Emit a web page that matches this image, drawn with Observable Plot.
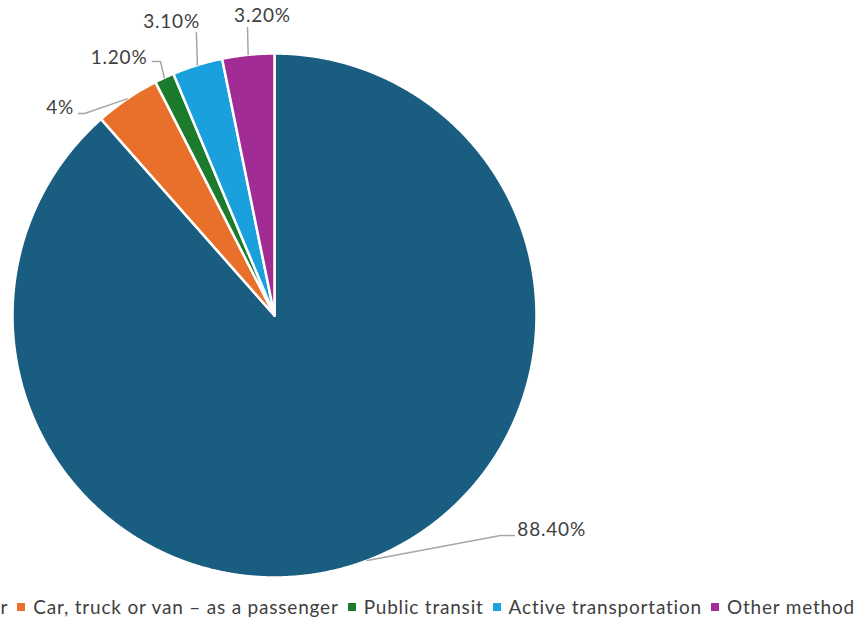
<!DOCTYPE html>
<html>
<head>
<meta charset="utf-8">
<script src="https://cdn.jsdelivr.net/npm/d3@7"></script>
<script src="https://cdn.jsdelivr.net/npm/@observablehq/plot@0.6"></script>
<style>
  html, body { margin: 0; padding: 0; background: #fff; overflow: hidden; }
  #wrap { position: relative; width: 859px; height: 622px; overflow: hidden; }
  #chart { position: absolute; left: 0; top: 0; }
  #legend { position: absolute; right: 4px; top: 595px; width: max-content; display: flex; white-space: nowrap;
    font-family: Lato, "Open Sans", sans-serif; font-size: 19px; letter-spacing: 0.8px; color: #404040; align-items: center; }
  .item { display: flex; align-items: center; margin-left: 9px; flex: none; }
  .sw { width: 8px; height: 8px; margin-right: 8px; display: inline-block; flex: none; }
  .item span.t { letter-spacing: 0.8px; }
</style>
</head>
<body>
<div id="wrap">
  <div id="chart"></div>
  <div id="legend"></div>
</div>
<script>
const categories = [
  "Car, truck or van \u2013 as a driver",
  "Car, truck or van \u2013 as a passenger",
  "Public transit",
  "Active transportation",
  "Other method"
];
const values = [88.4, 4, 1.2, 3.1, 3.2];
const labels = ["88.40%", "4%", "1.20%", "3.10%", "3.20%"];
const colors = ["#195e80", "#e8702a", "#1c7a2c", "#1aa0dc", "#a12c93"];

// Label layout in pie-radius units: leader path after the slice edge, text spot & anchor
const labelBends = [
  [[0.863, -0.840], [0.916, -0.840]],
  [[-0.725, 0.771], [-0.748, 0.771]],
  [[-0.435, 0.969], [-0.466, 0.969]],
  [[-0.298, 1.080]],
  [[-0.103, 1.099]]
];
const labelSpots = [[0.927, -0.817], [-0.765, 0.793], [-0.485, 0.985], [-0.393, 1.122], [-0.046, 1.143]];
const labelAnchors = ["start", "end", "end", "middle", "middle"];

const arcs = d3.pie().sort(null).value(d => d)(values);

// Wedge outlines
const wedgePts = [];
arcs.forEach((a, i) => {
  const cat = categories[i];
  wedgePts.push({cat, x: 0, y: 0});
  const n = Math.max(2, Math.ceil((a.endAngle - a.startAngle) / 0.004));
  for (let k = 0; k <= n; k++) {
    const t = a.startAngle + (a.endAngle - a.startAngle) * k / n;
    wedgePts.push({cat, x: Math.sin(t), y: Math.cos(t)});
  }
  wedgePts.push({cat, x: 0, y: 0});
});

// Leader lines
const leaderPts = [];
arcs.forEach((a, i) => {
  const m = (a.startAngle + a.endAngle) / 2;
  leaderPts.push({cat: categories[i], x: Math.sin(m), y: Math.cos(m)});
  labelBends[i].forEach(p => leaderPts.push({cat: categories[i], x: p[0], y: p[1]}));
});

const textData = labels.map((l, i) => ({label: l, x: labelSpots[i][0], y: labelSpots[i][1], anchor: labelAnchors[i]}));

const chart = Plot.plot({
  width: 859,
  height: 590,
  margin: 0,
  style: {background: "white"},
  x: {domain: [-1, 1], range: [12, 536], axis: null},
  y: {domain: [-1, 1], range: [577, 53], axis: null},
  color: {domain: categories, range: colors},
  marks: [
    Plot.line(wedgePts, {x: "x", y: "y", z: "cat", fill: "cat", stroke: "white", strokeWidth: 2.5, strokeLinejoin: "round"}),
    Plot.line(leaderPts, {x: "x", y: "y", z: "cat", stroke: "#a6a6a6", strokeWidth: 1.5}),
    ...["start", "end", "middle"].map(an =>
      Plot.text(textData.filter(d => d.anchor === an), {x: "x", y: "y", text: "label", textAnchor: an, lineAnchor: "middle",
        fontSize: 19, fontFamily: "Lato, 'Open Sans', sans-serif", fill: "#404040"}))
  ]
});
chart.querySelectorAll("text").forEach(t => t.setAttribute("letter-spacing", "0.8"));
document.getElementById("chart").appendChild(chart);

const legend = document.getElementById("legend");
categories.forEach((c, i) => {
  const item = document.createElement("span");
  item.className = "item";
  const sw = document.createElement("span");
  sw.className = "sw";
  sw.style.background = colors[i];
  const t = document.createElement("span");
  t.className = "t";
  t.textContent = c;
  item.appendChild(sw);
  item.appendChild(t);
  legend.appendChild(item);
});
</script>
</body>
</html>
